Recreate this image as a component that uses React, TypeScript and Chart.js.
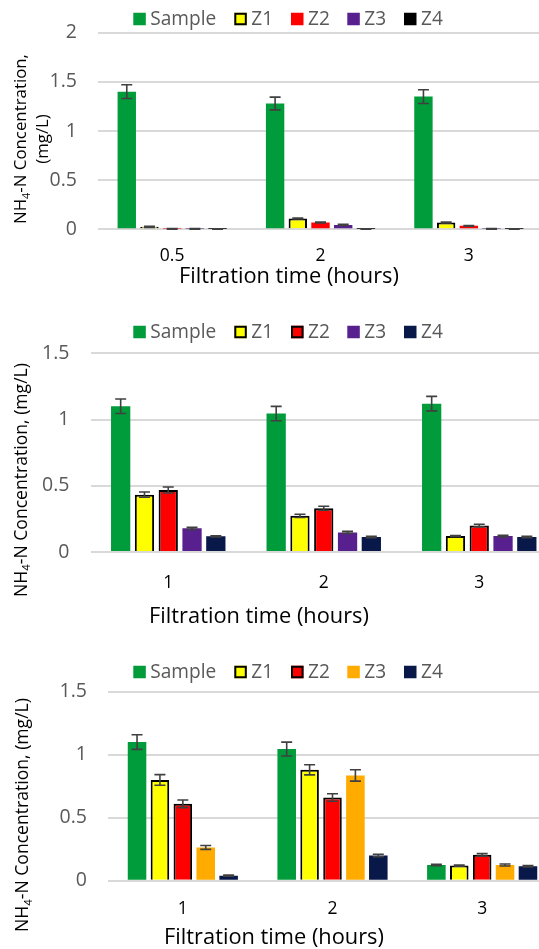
import React, { useEffect, useRef } from "react";
import { Chart, registerables } from "chart.js";
Chart.register(...registerables);

// ---------- DATA ----------
const seriesNames = ["Sample", "Z1", "Z2", "Z3", "Z4"];
const xTitle = "Filtration time (hours)";

// Chart 1
const c1Categories = ["0.5", "2", "3"];
const c1Sample = [1.4, 1.28, 1.35];
const c1Z1 = [0.025, 0.11, 0.07];
const c1Z2 = [0.005, 0.07, 0.035];
const c1Z3 = [0.005, 0.045, 0.005];
const c1Z4 = [0.003, 0.002, 0.002];
const c1SampleErr = [0.07, 0.065, 0.07];
const c1Z1Err = [0.005, 0.005, 0.005];
const c1Z2Err = [0.003, 0.005, 0.004];
const c1Z3Err = [0.003, 0.005, 0.003];
const c1Z4Err = [0.002, 0.002, 0.002];
const c1YTicks = [0, 0.5, 1, 1.5, 2];

// Chart 2
const c2Categories = ["1", "2", "3"];
const c2Sample = [1.1, 1.045, 1.12];
const c2Z1 = [0.433, 0.273, 0.12];
const c2Z2 = [0.468, 0.33, 0.2];
const c2Z3 = [0.179, 0.148, 0.12];
const c2Z4 = [0.118, 0.113, 0.113];
const c2SampleErr = [0.055, 0.054, 0.055];
const c2Z1Err = [0.02, 0.012, 0.005];
const c2Z2Err = [0.023, 0.015, 0.01];
const c2Z3Err = [0.008, 0.008, 0.007];
const c2Z4Err = [0.005, 0.005, 0.005];
const c2YTicks = [0, 0.5, 1, 1.5];

// Chart 3
const c3Categories = ["1", "2", "3"];
const c3Sample = [1.1, 1.045, 0.125];
const c3Z1 = [0.8, 0.88, 0.12];
const c3Z2 = [0.61, 0.66, 0.205];
const c3Z3 = [0.264, 0.835, 0.125];
const c3Z4 = [0.04, 0.2, 0.115];
const c3SampleErr = [0.058, 0.055, 0.006];
const c3Z1Err = [0.042, 0.04, 0.005];
const c3Z2Err = [0.03, 0.03, 0.01];
const c3Z3Err = [0.015, 0.045, 0.008];
const c3Z4Err = [0.004, 0.01, 0.006];
const c3YTicks = [0, 0.5, 1, 1.5];

// ---------- STYLE ----------
const FONT = "'Open Sans'";
const GREEN = "#009B3A";
const YELLOW = "#FFFF00";
const RED = "#FF0000";
const PURPLE = "#58208E";
const NAVY = "#071849";
const ORANGE = "#FFAB00";
const BLACK = "#000000";
const CANVAS_W = 560;

type Spec = {
  categories: string[];
  values: number[][];
  errors: number[][];
  colors: string[];
  borders: boolean[];
  yTicks: number[];
  top: number;
  height: number;
  area: { left: number; right: number; top: number; bottom: number };
  legendY: number;
  xTitlePos: { x: number; y: number };
  yTitleLines: string[][];
  yTitleXs: number[];
  yTitleY: number;
  yTitleLen: number;
  xTickPad: number;
};

const specs: Spec[] = [
  {
    categories: c1Categories,
    values: [c1Sample, c1Z1, c1Z2, c1Z3, c1Z4],
    errors: [c1SampleErr, c1Z1Err, c1Z2Err, c1Z3Err, c1Z4Err],
    colors: [GREEN, YELLOW, RED, PURPLE, BLACK],
    borders: [false, true, false, false, false],
    yTicks: c1YTicks,
    top: 0,
    height: 290,
    area: { left: 98, right: 543, top: 21.7, bottom: 229.3 },
    legendY: 19,
    xTitlePos: { x: 289, y: 277 },
    yTitleLines: [["NH", "4", "-N Concentration,"], ["(mg/L)"]],
    yTitleXs: [21.5, 43.5],
    yTitleY: 139,
    yTitleLen: 170,
    xTickPad: 8.5,
  },
  {
    categories: c2Categories,
    values: [c2Sample, c2Z1, c2Z2, c2Z3, c2Z4],
    errors: [c2SampleErr, c2Z1Err, c2Z2Err, c2Z3Err, c2Z4Err],
    colors: [GREEN, YELLOW, RED, PURPLE, NAVY],
    borders: [false, true, true, false, false],
    yTicks: c2YTicks,
    top: 300,
    height: 330,
    area: { left: 90.5, right: 557, top: 353.3, bottom: 552 },
    legendY: 332,
    xTitlePos: { x: 259, y: 617 },
    yTitleLines: [["NH", "4", "-N Concentration, (mg/L)"]],
    yTitleXs: [21.5],
    yTitleY: 480,
    yTitleLen: 234,
    xTickPad: 12.5,
  },
  {
    categories: c3Categories,
    values: [c3Sample, c3Z1, c3Z2, c3Z3, c3Z4],
    errors: [c3SampleErr, c3Z1Err, c3Z2Err, c3Z3Err, c3Z4Err],
    colors: [GREEN, YELLOW, RED, ORANGE, NAVY],
    borders: [false, true, true, false, false],
    yTicks: c3YTicks,
    top: 640,
    height: 309,
    area: { left: 108, right: 557, top: 691.7, bottom: 880.7 },
    legendY: 672,
    xTitlePos: { x: 274, y: 938 },
    yTitleLines: [["NH", "4", "-N Concentration, (mg/L)"]],
    yTitleXs: [23],
    yTitleY: 815,
    yTitleLen: 234,
    xTickPad: 9.5,
  },
];

const legendBoxXs = [133.3, 234.3, 291, 347.3, 404];
const LEGEND_SAMPLE_W = 66;
const X_TITLE_W = 220;

function fitSize(ctx: CanvasRenderingContext2D, text: string, target: number) {
  ctx.font = `100px ${FONT}`;
  return (100 * target) / ctx.measureText(text).width;
}

function makePlugins(spec: Spec) {
  const off = spec.top;
  const errorBars = {
    id: "errorBars",
    afterDatasetsDraw(chart: any) {
      const ctx = chart.ctx;
      const y = chart.scales.y;
      ctx.save();
      ctx.strokeStyle = "#404040";
      ctx.lineWidth = 1.6;
      chart.data.datasets.forEach((ds: any, di: number) => {
        const meta = chart.getDatasetMeta(di);
        meta.data.forEach((bar: any, i: number) => {
          const v = ds.data[i];
          const e = spec.errors[di][i];
          const yTop = y.getPixelForValue(v + e);
          const yBot = y.getPixelForValue(Math.max(0, v - e));
          const cap = 5.5;
          ctx.beginPath();
          ctx.moveTo(bar.x, yTop);
          ctx.lineTo(bar.x, yBot);
          ctx.moveTo(bar.x - cap, yTop);
          ctx.lineTo(bar.x + cap, yTop);
          ctx.moveTo(bar.x - cap, yBot);
          ctx.lineTo(bar.x + cap, yBot);
          ctx.stroke();
        });
      });
      ctx.restore();
    },
  };
  const texts = {
    id: "texts",
    afterDraw(chart: any) {
      const ctx: CanvasRenderingContext2D = chart.ctx;
      ctx.save();
      // legend
      const ly = spec.legendY - off;
      const box = 12.5;
      const lsize = fitSize(ctx, seriesNames[0], LEGEND_SAMPLE_W);
      ctx.font = `${lsize}px ${FONT}`;
      ctx.textBaseline = "middle";
      ctx.textAlign = "left";
      seriesNames.forEach((name, i) => {
        const bx = legendBoxXs[i];
        ctx.fillStyle = spec.colors[i];
        ctx.fillRect(bx, ly - box / 2, box, box);
        if (spec.borders[i]) {
          ctx.strokeStyle = "#000";
          ctx.lineWidth = 2;
          ctx.strokeRect(bx + 1, ly - box / 2 + 1, box - 2, box - 2);
        }
        ctx.fillStyle = "#595959";
        ctx.fillText(name, bx + box + 4.5, ly + 1);
      });
      // x title
      ctx.fillStyle = "#000";
      const xs = fitSize(ctx, xTitle, X_TITLE_W);
      ctx.font = `${xs}px ${FONT}`;
      ctx.textAlign = "center";
      ctx.fillText(xTitle, spec.xTitlePos.x, spec.xTitlePos.y - off);
      // y title (first line fitted to yTitleLen)
      const first = spec.yTitleLines[0];
      ctx.font = `100px ${FONT}`;
      const w100 =
        ctx.measureText(first[0]).width +
        ctx.measureText(first[1]).width * 0.65 +
        ctx.measureText(first[2]).width;
      const size = (100 * spec.yTitleLen) / w100;
      spec.yTitleLines.forEach((segs, li) => {
        ctx.save();
        ctx.translate(spec.yTitleXs[li], spec.yTitleY - off);
        ctx.rotate(-Math.PI / 2);
        ctx.textAlign = "left";
        ctx.textBaseline = "middle";
        const isSub = (si: number) => segs.length > 1 && si === 1;
        const widths = segs.map((s, si) => {
          ctx.font = `${isSub(si) ? size * 0.65 : size}px ${FONT}`;
          return ctx.measureText(s).width;
        });
        const total = widths.reduce((a, b) => a + b, 0);
        let x = -total / 2;
        segs.forEach((s, si) => {
          ctx.font = `${isSub(si) ? size * 0.65 : size}px ${FONT}`;
          ctx.fillText(s, x, isSub(si) ? size * 0.3 : 0);
          x += widths[si];
        });
        ctx.restore();
      });
      ctx.restore();
    },
  };
  return [errorBars, texts];
}

function BarChart({ spec }: { spec: Spec }) {
  const ref = useRef<HTMLCanvasElement | null>(null);
  useEffect(() => {
    const canvas = ref.current!;
    const a = spec.area;
    const localTop = a.top - spec.top;
    const localBottom = a.bottom - spec.top;
    const yMax = spec.yTicks[spec.yTicks.length - 1];
    const chart = new Chart(canvas, {
      type: "bar",
      data: {
        labels: spec.categories,
        datasets: seriesNames.map((name, i) => ({
          label: name,
          data: spec.values[i],
          backgroundColor: spec.colors[i],
          borderColor: spec.borders[i] ? "#000" : spec.colors[i],
          borderWidth: spec.borders[i] ? 2 : 0,
          categoryPercentage: 0.765,
          barPercentage: 0.81,
        })),
      },
      options: {
        responsive: false,
        animation: false,
        devicePixelRatio: 1,
        layout: { padding: { top: localTop, right: CANVAS_W - a.right, left: 0, bottom: 0 } },
        plugins: { legend: { display: false }, tooltip: { enabled: false } },
        scales: {
          x: {
            type: "category",
            offset: true,
            grid: { display: false },
            border: { display: false },
            ticks: { color: "#000", font: { family: FONT, size: 17.5 }, padding: spec.xTickPad },
            afterFit: (s: any) => {
              s.height = spec.height - localBottom;
            },
          },
          y: {
            min: 0,
            max: yMax,
            afterBuildTicks: (s: any) => {
              s.ticks = spec.yTicks.map((v) => ({ value: v }));
            },
            ticks: {
              color: "#595959",
              font: { family: FONT, size: 19.5 },
              padding: 21,
              callback: (v: any) => String(v),
            },
            grid: { color: "#D9D9D9", lineWidth: 2, drawTicks: false },
            border: { display: false },
            afterFit: (s: any) => {
              s.width = a.left;
            },
          },
        },
      },
      plugins: makePlugins(spec),
    } as any);
    return () => chart.destroy();
  }, [spec]);
  return (
    <canvas
      ref={ref}
      width={CANVAS_W}
      height={spec.height}
      style={{ position: "absolute", left: 0, top: spec.top, width: CANVAS_W, height: spec.height }}
    />
  );
}

export default function App() {
  return (
    <div
      style={{
        position: "absolute",
        left: 0,
        top: 0,
        width: 539,
        height: 949,
        overflow: "hidden",
        background: "#fff",
      }}
    >
      {specs.map((s, i) => (
        <BarChart key={i} spec={s} />
      ))}
    </div>
  );
}
